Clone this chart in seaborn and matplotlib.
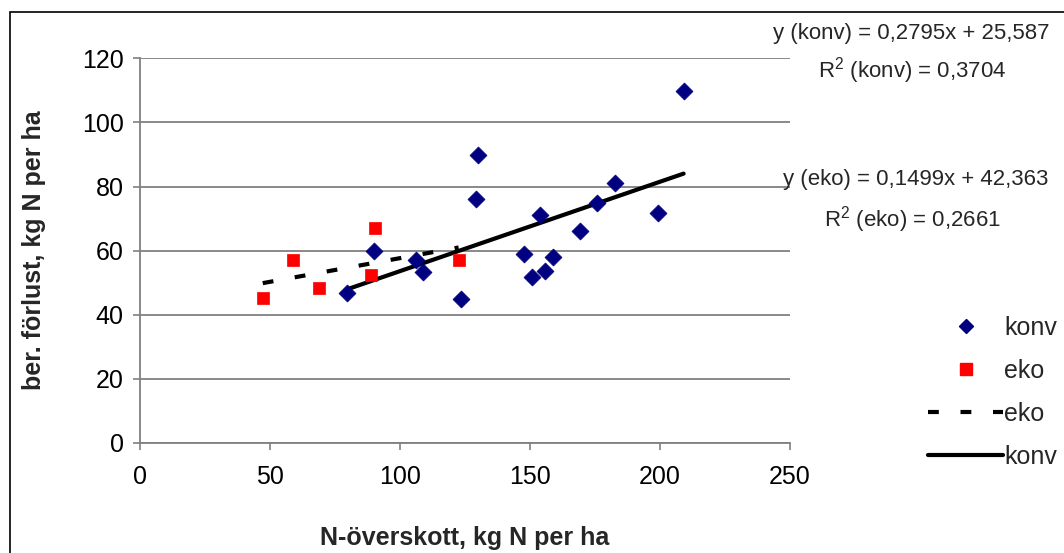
import numpy as np
import pandas as pd
import matplotlib
matplotlib.use("Agg")
import matplotlib.pyplot as plt
from matplotlib.lines import Line2D
from matplotlib.patches import Rectangle
import seaborn as sns

# ---- data ----
konv_x = [79.8, 89.9, 106.2, 109.1, 123.7, 129.1, 129.9, 147.7, 150.7, 153.7,
          156.0, 159.0, 169.1, 175.9, 182.9, 199.1, 209.1]
konv_y = [46.9, 60.0, 57.1, 53.2, 45.0, 76.2, 89.9, 58.8, 51.8, 71.2,
          53.7, 58.1, 66.2, 74.9, 81.2, 71.8, 109.9]
eko_x = [47.3, 58.8, 68.8, 88.9, 90.3, 122.6]
eko_y = [45.3, 57.2, 48.4, 52.4, 67.1, 57.2]

x_ticks = [0, 50, 100, 150, 200, 250]
y_ticks = [0, 20, 40, 60, 80, 100, 120]

eq_konv = "y (konv) = 0,2795x + 25,587"
r2_konv = "R$^2$ (konv) = 0,3704"
eq_eko = "y (eko) = 0,1499x + 42,363"
r2_eko = "R$^2$ (eko) = 0,2661"

x_label = "N-överskott, kg N per ha"
y_label = "ber. förlust, kg N per ha"

df_konv = pd.DataFrame({"x": konv_x, "y": konv_y})
df_eko = pd.DataFrame({"x": eko_x, "y": eko_y})

sns.set_theme(style="white")
plt.rcParams["font.family"] = ["Liberation Sans", "DejaVu Sans"]
plt.rcParams["mathtext.fontset"] = "custom"
plt.rcParams["mathtext.rm"] = "Liberation Sans"

W, H = 1064, 553
fig = plt.figure(figsize=(W / 100, H / 100), dpi=100)
ax_bottom, ax_top = 442.9, 58.3
ax_left, ax_right = 139.7, 790.0
ax = fig.add_axes([ax_left / W, 1 - ax_bottom / H, (ax_right - ax_left) / W,
                   (ax_bottom - ax_top) / H])

# outer border
fig.patches.append(Rectangle((10 / W, -0.05), 1.1, 1 - 12 / H + 0.05,
                             transform=fig.transFigure, fill=False,
                             edgecolor="black", linewidth=1.2))

ax.set_xlim(0, 250)
ax.set_ylim(0, 120)
ax.set_xticks(x_ticks)
ax.set_yticks(y_ticks)
ax.yaxis.grid(True, color="#808080", linewidth=1.3)
ax.xaxis.grid(False)
ax.set_axisbelow(True)
for s in ["top", "right"]:
    ax.spines[s].set_visible(False)
for s in ["left", "bottom"]:
    ax.spines[s].set_color("#808080")
    ax.spines[s].set_linewidth(1.3)
ax.tick_params(axis="both", which="major", length=5, width=1.2, color="#808080",
               labelsize=18, direction="out", bottom=True, left=True,
               labelcolor="black")
ax.tick_params(axis="x", pad=11)
ax.tick_params(axis="y", pad=6.5)

# trend lines
dash = (0, (2.6, 5.2))
sns.regplot(data=df_eko, x="x", y="y", scatter=False, ci=None, truncate=True, ax=ax,
            line_kws=dict(color="black", linewidth=3, linestyle=dash))
sns.regplot(data=df_konv, x="x", y="y", scatter=False, ci=None, truncate=True, ax=ax,
            line_kws=dict(color="black", linewidth=3, linestyle="-", solid_capstyle="round"))

# points
sns.scatterplot(data=df_konv, x="x", y="y", marker="D", s=75, color="#000080",
                edgecolor="#000080", linewidth=0.5, ax=ax, zorder=3, legend=False)
sns.scatterplot(data=df_eko, x="x", y="y", marker="s", s=80, color="#FF0000",
                edgecolor="#FF0000", linewidth=0.5, ax=ax, zorder=3, legend=False)

ax.set_xlabel(x_label, fontsize=18, fontweight="bold")
ax.set_ylabel(y_label, fontsize=18, fontweight="bold")
ax.xaxis.set_label_coords(0.5, -(526 - ax_bottom) / (ax_bottom - ax_top))
ax.yaxis.set_label_coords((46 - ax_left) / (ax_right - ax_left), 0.5)

# equations
fig.text(911 / W, 1 - 34 / H, eq_konv, ha="center", va="center", fontsize=16)
fig.text(912 / W, 1 - 71 / H, r2_konv, ha="center", va="center", fontsize=16)
fig.text(916 / W, 1 - 179 / H, eq_eko, ha="center", va="center", fontsize=16)
fig.text(912 / W, 1 - 220 / H, r2_eko, ha="center", va="center", fontsize=16)

# legend
handles = [
    Line2D([], [], marker="D", color="#000080", linestyle="none", markersize=7),
    Line2D([], [], marker="s", color="#FF0000", linestyle="none", markersize=8),
    Line2D([], [], color="black", linewidth=3, linestyle=dash),
    Line2D([], [], color="black", linewidth=3, linestyle="-"),
]
labels = ["konv", "eko", "eko", "konv"]
fig.legend(handles, labels, loc="upper left", bbox_to_anchor=(928 / W, 1 - 316 / H),
           frameon=False, fontsize=18, handlelength=3.0, handletextpad=0.05,
           labelspacing=0.76, borderpad=0, borderaxespad=0)

fig.savefig("out.png", dpi=100)
